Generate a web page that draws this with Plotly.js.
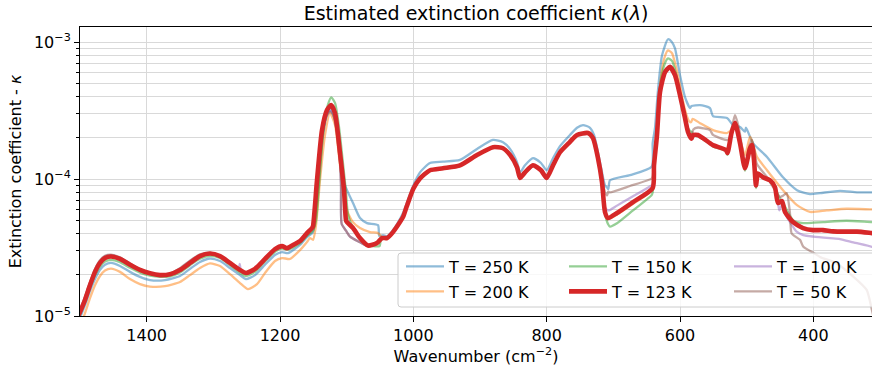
<!DOCTYPE html>
<html>
<head>
<meta charset="utf-8">
<script src="https://cdn.plot.ly/plotly-3.0.1.min.js"></script>
<style>
  html, body { margin: 0; padding: 0; background: #fff; }
  #chart { width: 872px; height: 372px; }
</style>
</head>
<body>
<div id="chart"></div>
<script>
// Wavenumber (cm^-2) and extinction coefficient kappa for each temperature

const wn250 = [1505,1500,1492.5,1485,1477.5,1470,1462.5,1453.5,1440,1425,1410,1395,1372.5,1350,1335,1320,1305,1290,1275,1260,1251,1237.5,1222.5,1207.5,1197,1188,1170,1159.5,1150.5,1143,1135.5,1128,1123.5,1117.5,1110,1102.5,1099.5,1090.5,1080,1069.5,1053,1051,1045.5,1039.5,1030.5,1015.5,1000,990,975,955.5,930,904.5,880.5,865.5,855,844.5,840,832.5,820.5,808.5,800,790.5,780,765,754.5,745.5,735,729,723,717,712.5,709.5,707.5,705,675,642.5,641,637.5,633,627,618,612,607.5,600,592.5,585,582.75,570,555,550.5,529.5,520.5,510,502.5,501,490.5,469.5,445.5,424.5,405,390,360,334.5,312,305];
const k250 = [0.85e-5,0.97e-5,1.20e-5,1.52e-5,1.86e-5,2.17e-5,2.37e-5,2.44e-5,2.32e-5,2.10e-5,1.93e-5,1.83e-5,1.83e-5,1.96e-5,2.21e-5,2.48e-5,2.63e-5,2.52e-5,2.24e-5,1.99e-5,1.86e-5,1.99e-5,2.37e-5,2.79e-5,2.93e-5,2.88e-5,3.30e-5,3.77e-5,4.10e-5,8.3e-5,2.10e-4,3.08e-4,3.19e-4,2.70e-4,1.38e-4,9.0e-5,8.3e-5,6.68e-5,5.19e-5,4.77e-5,4.61e-5,3.83e-5,3.90e-5,3.83e-5,4.24e-5,5.65e-5,9.0e-5,1.12e-4,1.31e-4,1.34e-4,1.38e-4,1.66e-4,1.93e-4,1.86e-4,1.66e-4,1.33e-4,1.12e-4,1.26e-4,1.42e-4,1.31e-4,1.16e-4,1.42e-4,1.74e-4,2.10e-4,2.37e-4,2.48e-4,2.37e-4,2.10e-4,1.57e-4,1.12e-4,9.0e-5,8.7e-5,8.45e-5,9.8e-5,1.07e-4,1.23e-4,1.83e-4,2.37e-4,4.46e-4,8.0e-4,1.05e-3,1.0e-3,9.0e-4,5.74e-4,3.97e-4,3.30e-4,3.41e-4,3.47e-4,3.30e-4,2.88e-4,2.79e-4,2.48e-4,2.40e-4,2.22e-4,2.37e-4,1.83e-4,1.45e-4,1.03e-4,8.3e-5,7.77e-5,7.9e-5,8.2e-5,8.0e-5,8.0e-5,8.0e-5];

const wn200 = [1505,1500,1492.5,1485,1477.5,1470,1462.5,1453.5,1440,1425,1410,1395,1372.5,1350,1335,1320,1305,1290,1275,1260,1248,1234.5,1222.5,1207.5,1197,1185,1170,1159.5,1155,1150.5,1146,1140,1132.5,1125,1117.5,1110,1104,1099.5,1090.5,1080,1065,1053,1045.5,1039.5,1030.5,1015.5,1000,990,975,955.5,930,904.5,880.5,865.5,855,844.5,840,832.5,820.5,808.5,800,790.5,780,765,754.5,738,730.5,723,717,712.5,708,694.5,670.5,641,639,634.5,630,624,618,612,606,600,592.5,586.5,583.5,581,570,550.5,529.5,522.75,517.5,510,502.5,495,492,485,469.5,445.5,424.5,405,380,350,312,305];
const k200 = [0.75e-5,0.84e-5,1.05e-5,1.35e-5,1.68e-5,1.96e-5,2.15e-5,2.22e-5,2.10e-5,1.86e-5,1.71e-5,1.64e-5,1.65e-5,1.77e-5,1.99e-5,2.24e-5,2.42e-5,2.32e-5,2.02e-5,1.74e-5,1.57e-5,1.71e-5,2.06e-5,2.52e-5,2.65e-5,2.61e-5,3.03e-5,3.47e-5,3.71e-5,3.60e-5,4.61e-5,9.8e-5,2.10e-4,3.03e-4,2.48e-4,1.26e-4,7.64e-5,5.94e-5,4.85e-5,4.39e-5,4.10e-5,4.03e-5,3.71e-5,3.65e-5,4.05e-5,5.22e-5,8.4e-5,1.0e-4,1.15e-4,1.19e-4,1.25e-4,1.49e-4,1.70e-4,1.67e-4,1.49e-4,1.21e-4,1.01e-4,1.11e-4,1.25e-4,1.15e-4,1.01e-4,1.25e-4,1.56e-4,1.86e-4,2.09e-4,2.16e-4,1.98e-4,1.41e-4,9.4e-5,5.7e-5,5.1e-5,5.5e-5,6.6e-5,8.4e-5,1.3e-4,2.3e-4,4.8e-4,7.5e-4,8.7e-4,8.3e-4,6.6e-4,4.8e-4,3.2e-4,2.65e-4,2.6e-4,2.75e-4,2.56e-4,2.28e-4,2.17e-4,2.3e-4,2.6e-4,1.95e-4,1.5e-4,2.04e-4,1.9e-4,1.47e-4,1.16e-4,8.3e-5,6.45e-5,5.76e-5,5.9e-5,6.07e-5,6.0e-5,6.0e-5];

const wn150 = [1505,1500,1492.5,1485,1477.5,1470,1462.5,1453.5,1440,1425,1410,1395,1380,1365,1350,1335,1320,1305,1290,1275,1260,1251,1237.5,1222.5,1207.5,1197,1188,1170,1159.5,1150.5,1146,1141.5,1135.5,1128,1123,1117.5,1111.5,1105.5,1101,1098,1090.5,1080,1068,1054.5,1050.5,1049,1045.5,1039.5,1030.5,1015.5,1000,990,975,955.5,930,904.5,880.5,865.5,855,844.5,840,832.5,820.5,808.5,800,790.5,780,765,754.5,738,730.5,723,717,712.5,708,705,694.5,670.5,642.5,641,639,634.5,630,624,618,612,606,600,592.5,588,585,582,580,573,565.5,555,550.5,531,528.75,522.75,517.5,510,502.5,495,492,489,486,483,475.5,465,457.5,450,445.5,430.5,415.5,400,385,350,312,305];
const k150 = [0.9e-5,1.02e-5,1.26e-5,1.6e-5,1.98e-5,2.3e-5,2.5e-5,2.57e-5,2.47e-5,2.25e-5,2.07e-5,1.97e-5,1.93e-5,1.95e-5,2.08e-5,2.35e-5,2.62e-5,2.75e-5,2.65e-5,2.35e-5,2.07e-5,1.96e-5,2.1e-5,2.5e-5,2.95e-5,3.1e-5,3.05e-5,3.4e-5,3.85e-5,4.2e-5,5.0e-5,9.0e-5,2.1e-4,3.5e-4,3.95e-4,3.6e-4,2.4e-4,1.3e-4,8.0e-5,5.5e-5,4.4e-5,3.75e-5,3.3e-5,3.22e-5,3.25e-5,3.55e-5,3.7e-5,3.7e-5,4.08e-5,5.25e-5,8.4e-5,1.0e-4,1.15e-4,1.19e-4,1.25e-4,1.49e-4,1.70e-4,1.67e-4,1.49e-4,1.21e-4,1.01e-4,1.11e-4,1.25e-4,1.15e-4,1.01e-4,1.25e-4,1.56e-4,1.86e-4,2.09e-4,2.16e-4,1.98e-4,1.4e-4,9.3e-5,5.6e-5,4.7e-5,4.5e-5,4.75e-5,5.9e-5,7.64e-5,8.0e-5,1.3e-4,2.3e-4,4.7e-4,6.7e-4,7.6e-4,7.3e-4,5.9e-4,4.3e-4,2.95e-4,2.35e-4,2.25e-4,2.2e-4,2.1e-4,2.05e-4,1.95e-4,1.8e-4,1.73e-4,1.6e-4,1.5e-4,2.1e-4,2.5e-4,1.8e-4,1.15e-4,1.65e-4,1.75e-4,1.35e-4,8.6e-5,1.08e-4,1.03e-4,9.6e-5,8.6e-5,7.2e-5,6.7e-5,5.02e-5,4.77e-5,4.8e-5,4.85e-5,4.96e-5,4.85e-5,4.85e-5];

const wn123 = [1505,1500,1492.5,1485,1477.5,1470,1462.5,1453.5,1440,1425,1410,1395,1380,1365,1350,1335,1320,1305,1290,1275,1260,1251,1237.5,1222.5,1207.5,1197,1189.5,1177.5,1170,1159.5,1152,1150.5,1144.5,1137,1129.5,1123.5,1117.5,1110,1104,1101,1099.5,1090.5,1080,1068,1054.5,1047,1039.5,1030.5,1015.5,1010,1000,990,975,955.5,930,904.5,880.5,865.5,855,844.5,840,832.5,820.5,808.5,800,790.5,780,765,754.5,738,730.5,723,717,712.5,708,694.5,670.5,641,639,634.5,630,622.5,615,607.5,600,592.5,588,582.75,580.5,573,565.5,555,550.5,531,528.75,522.75,517.5,510,502.5,495,492,489,486,483,475.5,465,457.5,453,447,442.5,430.5,415.5,400.5,385.5,370.5,349.5,334.5,312,305];
const k123 = [0.95e-5,1.07e-5,1.31e-5,1.68e-5,2.10e-5,2.44e-5,2.65e-5,2.72e-5,2.61e-5,2.37e-5,2.17e-5,2.05e-5,1.99e-5,2.02e-5,2.17e-5,2.44e-5,2.74e-5,2.86e-5,2.74e-5,2.44e-5,2.17e-5,2.06e-5,2.21e-5,2.61e-5,3.08e-5,3.24e-5,3.13e-5,3.36e-5,3.53e-5,4.03e-5,4.39e-5,4.54e-5,9.8e-5,2.28e-4,3.19e-4,3.47e-4,3.03e-4,1.55e-4,8.3e-5,5.0e-5,4.85e-5,4.39e-5,3.71e-5,3.27e-5,3.41e-5,3.71e-5,3.71e-5,4.10e-5,5.28e-5,6.3e-5,8.5e-5,1.01e-4,1.16e-4,1.20e-4,1.26e-4,1.50e-4,1.71e-4,1.68e-4,1.50e-4,1.22e-4,1.02e-4,1.12e-4,1.26e-4,1.16e-4,1.02e-4,1.26e-4,1.57e-4,1.87e-4,2.10e-4,2.17e-4,1.99e-4,1.42e-4,9.5e-5,5.74e-5,5.19e-5,5.65e-5,6.79e-5,8.6e-5,1.26e-4,2.10e-4,4.32e-4,6.04e-4,6.60e-4,5.74e-4,4.10e-4,2.79e-4,2.21e-4,1.97e-4,2.10e-4,2.10e-4,1.99e-4,1.83e-4,1.77e-4,1.63e-4,1.55e-4,2.17e-4,2.58e-4,1.83e-4,1.20e-4,1.68e-4,1.77e-4,1.38e-4,9.0e-5,1.10e-4,1.03e-4,9.8e-5,8.7e-5,6.7e-5,6.9e-5,5.74e-5,4.85e-5,4.39e-5,4.24e-5,4.24e-5,4.15e-5,4.13e-5,4.13e-5,4.03e-5,4.0e-5];

const wn100 = [1505,1500,1492.5,1485,1477.5,1470,1462.5,1453.5,1440,1425,1410,1395,1380,1365,1350,1335,1320,1305,1290,1275,1262,1260.5,1258,1251,1237.5,1222.5,1207.5,1197,1189.5,1177.5,1170,1159.5,1152,1148,1142,1136,1130,1125,1120.5,1115,1111,1108.5,1107.5,1101,1095,1080,1073,1068,1054.5,1047,1039.5,1030.5,1015.5,1010,1000,990,975,955.5,930,904.5,880.5,865.5,855,844.5,840,832.5,820.5,808.5,800,790.5,780,765,754.5,738,730.5,723,717,712.5,708,705,694.5,670.5,642.5,641,639,634.5,630,622.5,615,607.5,600,592.5,588,582.75,580.5,573,565.5,555,550.5,531,528.75,522.75,517.5,510,502.5,495,492,489,486,483,475.5,465,457.5,453,451,447,442.5,435,425,415,400,375,360,340,312,305];
const k100 = [1.0e-5,1.12e-5,1.37e-5,1.75e-5,2.18e-5,2.52e-5,2.73e-5,2.78e-5,2.66e-5,2.41e-5,2.19e-5,2.05e-5,1.99e-5,2.03e-5,2.22e-5,2.52e-5,2.8e-5,2.88e-5,2.74e-5,2.44e-5,2.2e-5,2.4e-5,2.1e-5,2.06e-5,2.21e-5,2.61e-5,3.08e-5,3.24e-5,3.13e-5,3.36e-5,3.53e-5,4.03e-5,4.4e-5,5.5e-5,1.2e-4,2.2e-4,2.9e-4,3.15e-4,3.0e-4,2.3e-4,1.6e-4,9.0e-5,4.7e-5,4.2e-5,3.8e-5,3.45e-5,3.3e-5,3.27e-5,3.41e-5,3.71e-5,3.71e-5,4.1e-5,5.28e-5,6.3e-5,8.5e-5,1.0e-4,1.15e-4,1.19e-4,1.25e-4,1.49e-4,1.70e-4,1.67e-4,1.49e-4,1.21e-4,1.01e-4,1.11e-4,1.25e-4,1.15e-4,1.01e-4,1.25e-4,1.56e-4,1.86e-4,2.09e-4,2.16e-4,1.98e-4,1.41e-4,9.5e-5,6.2e-5,5.9e-5,5.95e-5,6.4e-5,7.5e-5,9.0e-5,9.2e-5,1.26e-4,2.1e-4,4.3e-4,6.0e-4,6.6e-4,5.7e-4,4.1e-4,2.78e-4,2.2e-4,1.96e-4,2.09e-4,2.09e-4,1.98e-4,1.82e-4,1.76e-4,1.62e-4,1.55e-4,2.17e-4,2.6e-4,1.83e-4,1.2e-4,1.68e-4,1.77e-4,1.38e-4,9.2e-5,1.1e-4,1.03e-4,9.8e-5,8.7e-5,6.7e-5,5.9e-5,6.5e-5,5.6e-5,4.85e-5,4.13e-5,3.9e-5,3.8e-5,3.7e-5,3.65e-5,3.45e-5,3.2e-5,3.1e-5];

const wn50 = [1505,1500,1492.5,1485,1477.5,1470,1462.5,1453.5,1440,1425,1410,1395,1380,1365,1350,1335,1320,1305,1290,1275,1260,1251,1237.5,1222.5,1207.5,1197,1189.5,1177.5,1170,1159.5,1152,1148,1142,1136,1130,1125,1120.5,1115,1111,1108.5,1107.5,1101,1095,1080,1073,1068,1054.5,1047,1039.5,1030.5,1015.5,1010,1000,990,975,955.5,930,904.5,880.5,865.5,855,844.5,840,832.5,820.5,808.5,800,790.5,780,765,754.5,738,730.5,723,717,712.5,709.5,707.5,705,675,642.5,641,639,634.5,630,622.5,616,607.5,600,592.5,588,582.75,580,573,565,555,550.5,531,527,522,517.5,512,505,502.5,495,492,488,485,470,450,445,440,435,432.5,420,415,400,390,365,340,320,312,305];
const k50 = [1.0e-5,1.12e-5,1.38e-5,1.76e-5,2.2e-5,2.55e-5,2.75e-5,2.8e-5,2.68e-5,2.42e-5,2.2e-5,2.06e-5,2.0e-5,2.04e-5,2.23e-5,2.54e-5,2.82e-5,2.9e-5,2.75e-5,2.45e-5,2.18e-5,2.07e-5,2.22e-5,2.62e-5,3.09e-5,3.25e-5,3.14e-5,3.37e-5,3.54e-5,4.04e-5,4.4e-5,5.6e-5,1.2e-4,2.2e-4,2.9e-4,3.1e-4,2.95e-4,2.3e-4,1.6e-4,9.0e-5,4.7e-5,4.2e-5,3.8e-5,3.45e-5,3.3e-5,3.27e-5,3.41e-5,3.71e-5,3.71e-5,4.1e-5,5.28e-5,6.3e-5,8.5e-5,1.0e-4,1.15e-4,1.19e-4,1.25e-4,1.49e-4,1.7e-4,1.67e-4,1.49e-4,1.21e-4,1.01e-4,1.11e-4,1.25e-4,1.15e-4,1.01e-4,1.25e-4,1.56e-4,1.86e-4,2.09e-4,2.16e-4,1.98e-4,1.45e-4,1.0e-4,8.0e-5,7.6e-5,8.1e-5,8.0e-5,8.9e-5,1.01e-4,1.05e-4,1.3e-4,2.1e-4,4.2e-4,5.9e-4,6.45e-4,5.6e-4,4.0e-4,2.75e-4,2.2e-4,2.05e-4,2.3e-4,2.38e-4,2.35e-4,2.28e-4,2.1e-4,1.93e-4,1.95e-4,2.4e-4,2.93e-4,2.4e-4,1.5e-4,1.25e-4,1.8e-4,1.93e-4,1.6e-4,1.3e-4,1.04e-4,7.4e-5,7.6e-5,7.9e-5,5.6e-5,4.0e-5,3.6e-5,3.2e-5,2.9e-5,2.7e-5,2.42e-5,1.94e-5,1.55e-5,1.1e-5,0.8e-5];

const seriesNames = ['T = 250 K', 'T = 200 K', 'T = 150 K', 'T = 123 K', 'T = 100 K', 'T = 50 K'];
const xTicks = [1400, 1200, 1000, 800, 600, 400];
const yTicks = [1e-5, 1e-4, 1e-3];
const yTickText = ['10<sup>−5</sup>', '10<sup>−4</sup>', '10<sup>−3</sup>'];

// Minor grid positions on the log axis (2..9 within each decade)
const yMinor = [];
[1e-5, 1e-4, 1e-3].forEach(d => { for (let m = 2; m <= 9; m++) yMinor.push(m * d); });

const FONT = 'DejaVu Sans, Liberation Sans, sans-serif';

// Plot area in pixels
const W = 872, H = 372, L = 80, R = 0, T = 27, B = 56;
const pw = W - L - R, ph = H - T - B;
const px = x => (x - L) / pw;          // pixel -> paper x
const py = y => (H - B - y) / ph;      // pixel -> paper y

const styles = [
  {color: 'rgba(31,119,180,0.5)',  width: 2.3},
  {color: 'rgba(255,127,14,0.5)',  width: 2.3},
  {color: 'rgba(44,160,44,0.5)',   width: 2.3},
  {color: '#d62728',               width: 4.6},
  {color: 'rgba(148,103,189,0.5)', width: 2.3},
  {color: 'rgba(140,86,75,0.5)',   width: 2.3}
];
const xs = [wn250, wn200, wn150, wn123, wn100, wn50];
const ys = [k250, k200, k150, k123, k100, k50];

// one legend per entry, laid out in a 3 x 2 grid
const legendIds = ['legend', 'legend2', 'legend3', 'legend4', 'legend5', 'legend6'];
const legCol = [401, 401, 564, 564, 729, 729];
const legRow = [266.5, 291.5, 266.5, 291.5, 266.5, 291.5];

const traces = xs.map((x, i) => ({
  type: 'scatter', mode: 'lines',
  x: x, y: ys[i], name: seriesNames[i],
  legend: legendIds[i],
  line: {color: styles[i].color, width: styles[i].width, shape: 'spline', smoothing: 0.6},
  hoverinfo: 'skip'
}));
// draw the thick 123 K curve last so it sits on top
const order = [0, 1, 2, 4, 5, 3];
const data = order.map(i => traces[i]);

const layout = {
  width: W, height: H,
  margin: {l: L, r: R, t: T, b: B, pad: 0},
  paper_bgcolor: '#fff', plot_bgcolor: '#fff',
  font: {family: FONT, size: 16, color: '#000'},
  title: {
    text: 'Estimated extinction coefficient <i>κ</i>(<i>λ</i>)',
    font: {family: FONT, size: 19, color: '#000'},
    x: 0.5, xref: 'paper', xanchor: 'center',
    y: 1 - 13 / H, yref: 'container', yanchor: 'middle'
  },
  xaxis: {
    range: [1500, 312], autorange: false,
    tickmode: 'array', tickvals: xTicks,
    ticks: 'outside', ticklen: 5, tickwidth: 1, tickcolor: '#000',
    showline: true, linecolor: '#000', linewidth: 1, mirror: true,
    showgrid: true, gridcolor: '#d9d9d9', gridwidth: 1,
    zeroline: false,
    tickfont: {family: FONT, size: 16, color: '#000'},
    title: {text: 'Wavenumber (cm<sup>−2</sup>)', font: {family: FONT, size: 16, color: '#000'}, standoff: 6}
  },
  yaxis: {
    type: 'log', range: [-5, Math.log10(1.29e-3)], autorange: false,
    tickmode: 'array', tickvals: yTicks, ticktext: yTickText,
    ticks: 'outside', ticklen: 5, tickwidth: 1, tickcolor: '#000',
    showline: true, linecolor: '#000', linewidth: 1, mirror: false,
    showgrid: true, gridcolor: '#d9d9d9', gridwidth: 1,
    minor: {tickmode: 'array', tickvals: yMinor, ticks: 'outside', ticklen: 3, tickcolor: '#000',
            showgrid: true, gridcolor: '#d9d9d9', gridwidth: 1},
    zeroline: false,
    tickfont: {family: FONT, size: 16, color: '#000'},
    title: {text: 'Extinction coefficient - <i>κ</i>', font: {family: FONT, size: 16, color: '#000'}, standoff: 8}
  },
  showlegend: true,
  shapes: [{
    type: 'path', xref: 'paper', yref: 'paper', layer: 'above',
    path: (() => {
      const x0 = 398, x1 = 880, y0 = 253, y1 = 307, r = 3;
      return 'M' + px(x0 + r) + ',' + py(y0) +
        ' L' + px(x1) + ',' + py(y0) +
        ' L' + px(x1) + ',' + py(y1) +
        ' L' + px(x0 + r) + ',' + py(y1) +
        ' Q' + px(x0) + ',' + py(y1) + ' ' + px(x0) + ',' + py(y1 - r) +
        ' L' + px(x0) + ',' + py(y0 + r) +
        ' Q' + px(x0) + ',' + py(y0) + ' ' + px(x0 + r) + ',' + py(y0) + ' Z';
    })(),
    fillcolor: 'rgba(255,255,255,0.8)',
    line: {color: '#cccccc', width: 1}
  }]
};

legendIds.forEach((id, i) => {
  layout[id] = {
    x: px(legCol[i]), y: py(legRow[i]), xref: 'paper', yref: 'paper',
    xanchor: 'left', yanchor: 'middle',
    bgcolor: 'rgba(0,0,0,0)', borderwidth: 0,
    itemwidth: 38,
    font: {family: FONT, size: 16, color: '#000'}
  };
});

Plotly.newPlot('chart', data, layout, {displayModeBar: false, staticPlot: true});
</script>
</body>
</html>
